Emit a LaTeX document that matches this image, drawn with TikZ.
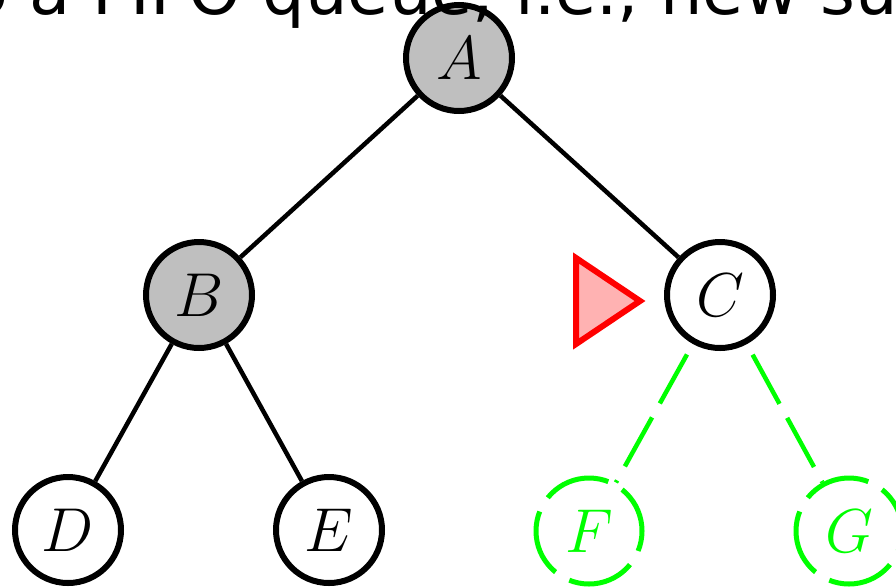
\RequirePackage{fix-cm}
\documentclass[tikz,border=0pt]{standalone}
\usepackage{amsmath}
\usepackage{amssymb}
\usepackage{fontspec}
\newfontfamily\slidefont{DejaVu Sans}

\begin{document}
\begin{tikzpicture}[x=1pt, y=-1pt,
    vertex/.style={circle, draw, line width=6pt, minimum size=106pt, inner sep=0pt, font=\fontsize{62}{62}\selectfont},
    explored/.style={vertex, fill=black!25},
    unseen/.style={vertex, draw=green, text=green, line width=5pt, dash pattern=on 67pt off 16pt, dash phase=19.5pt},
    tree/.style={line width=4.5pt},
    pending/.style={draw=green, line width=4.5pt, dash pattern=on 56pt off 16pt, dash phase=60pt},
    marker/.style={draw=red, fill=red!30, line width=6pt, line join=miter}]
    \useasboundingbox (0, 0) rectangle (896, 587);
    \node[explored] (A) at (459, 58) {$A$};
    \node[explored] (B) at (199, 295) {$B$};
    \node[vertex] (C) at (720, 295) {$C$};
    \node[vertex] (D) at (68, 530) {$D$};
    \node[vertex] (E) at (329, 530) {$E$};
    \node[unseen] (F) at (589, 531) {$F$};
    \node[unseen] (G) at (849, 531) {$G$};
    \draw[tree] (A) -- (B);
    \draw[tree] (A) -- (C);
    \draw[tree] (B) -- (D);
    \draw[tree] (B) -- (E);
    \draw[pending] (C) -- (F);
    \draw[pending] (C) -- (G);
    % current node pointer
    \draw[marker] (576, 258) -- (576, 344) -- (640, 301) -- cycle;
    % slide text above the tree, runs past the top edge
    \node[anchor=base west, inner sep=0pt, font=\slidefont\fontsize{67}{67}\selectfont] (caption) at (-59, 14) {to a FIFO queue, i.e., new successors go at end};
\end{tikzpicture}
\end{document}
